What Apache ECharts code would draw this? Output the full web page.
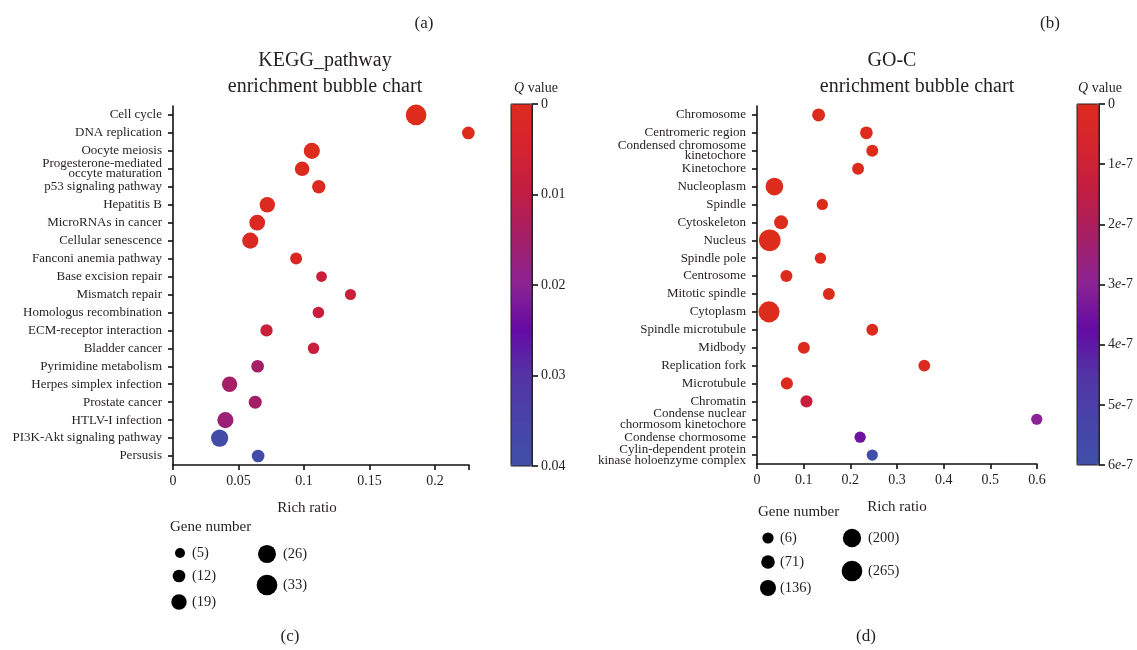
<!DOCTYPE html>
<html>
<head>
<meta charset="utf-8">
<script src="https://cdn.jsdelivr.net/npm/echarts@6/dist/echarts.min.js"></script>
<style>
html, body { margin: 0; padding: 0; background: #fff; }
#main { width: 1137px; height: 650px; }
</style>
</head>
<body>
<div id="main"></div>
<script>
// KEGG pathway (left)
const keggTerms = ['Cell cycle', 'DNA replication', 'Oocyte meiosis', 'Progesterone-mediated\noccyte maturation',
  'p53 signaling pathway', 'Hepatitis B', 'MicroRNAs in cancer', 'Cellular senescence', 'Fanconi anemia pathway',
  'Base excision repair', 'Mismatch repair', 'Homologus recombination', 'ECM-receptor interaction', 'Bladder cancer',
  'Pyrimidine metabolism', 'Herpes simplex infection', 'Prostate cancer', 'HTLV-I infection',
  'PI3K-Akt signaling pathway', 'Persusis'];
const keggRatio = [0.1856, 0.2255, 0.106, 0.0986, 0.1113, 0.072, 0.0643, 0.059, 0.094,
  0.1134, 0.1355, 0.111, 0.0714, 0.1073, 0.0646, 0.0432, 0.0628, 0.040, 0.0356, 0.065];
const keggGenes = [33, 12, 21, 17, 14, 19, 20, 21, 10, 7, 8, 9, 11, 9, 12, 19, 13, 21, 24, 12];
const keggQ = [0, 0, 0.0002, 0.0005, 0.0008, 0.001, 0.0012, 0.0015, 0.002,
  0.008, 0.008, 0.008, 0.0075, 0.008, 0.015, 0.0145, 0.015, 0.0165, 0.0385, 0.038];

// GO-C (right)
const goTerms = ['Chromosome', 'Centromeric region', 'Condensed chromosome\nkinetochore', 'Kinetochore',
  'Nucleoplasm', 'Spindle', 'Cytoskeleton', 'Nucleus', 'Spindle pole', 'Centrosome', 'Mitotic spindle',
  'Cytoplasm', 'Spindle microtubule', 'Midbody', 'Replication fork', 'Microtubule', 'Chromatin',
  'Condense nuclear\nchormosom kinetochore', 'Condense chormosome',
  'Cylin-dependent protein\nkinase holoenzyme complex'];
const goRatio = [0.132, 0.2344, 0.247, 0.2166, 0.0373, 0.14, 0.0516, 0.0273, 0.136, 0.063, 0.154,
  0.0258, 0.247, 0.1004, 0.3585, 0.064, 0.106, 0.5995, 0.221, 0.247];
const goGenes = [55, 46, 27, 27, 183, 8, 82, 290, 9, 30, 26, 275, 22, 28, 22, 33, 30, 6, 8, 7];
const goQ = [0, 0, 0, 0.05e-7, 0, 0.05e-7, 0, 0, 0.05e-7, 0.05e-7, 0.05e-7, 0, 0.1e-7, 0.1e-7, 0.1e-7,
  0.1e-7, 1.2e-7, 3.0e-7, 3.5e-7, 5.9e-7];

// gene number legends
const keggLegend = [5, 12, 19, 26, 33];
const goLegend = [6, 71, 136, 200, 265];

const qColors = ['#dd2b1c', '#d32430', '#c01d44', '#a31f68', '#8a2394', '#640aa4', '#5434a6', '#4843a8', '#3f50a8'];
const FONT = '"Liberation Serif", "DejaVu Serif", serif';
const INK = '#231f20';

// bubble size (diameter) from gene number
const sizeKegg = n => 8.1 + 0.382 * n;
const sizeGo = n => 11 + 0.0366 * n;

const chart = echarts.init(document.getElementById('main'));

function legendGraphics(values, sizeFn, pos, labelX) {
  const out = [];
  values.forEach((v, i) => {
    out.push({ type: 'circle', shape: { cx: pos[i][0], cy: pos[i][1], r: sizeFn(v) / 2 }, style: { fill: '#000' } });
    out.push({ type: 'text', style: { x: labelX[i], y: pos[i][1], text: '(' + v + ')', fill: INK,
      font: '14.5px ' + FONT, textAlign: 'left', textVerticalAlign: 'middle' } });
  });
  return out;
}

const legendL = legendGraphics(keggLegend, sizeKegg,
  [[180, 553], [179, 576], [179, 602], [267, 554], [267, 585]], [192, 192, 192, 283, 283]);
const legendR = legendGraphics(goLegend, sizeGo,
  [[768, 538], [768, 562], [768, 588], [852, 538], [852, 571]], [780, 780, 780, 868, 868]);

function txt(text, x, y, size, align) {
  return { type: 'text', style: { x: x, y: y, text: text, fill: INK, font: size + 'px ' + FONT,
    textAlign: align || 'center', textVerticalAlign: 'middle' } };
}

const barL = { left: 511, top: 104, width: 21, height: 362 };
const barR = { left: 1077, top: 104, width: 22, height: 361 };

const catAxis = (gridIndex, data) => ({
  type: 'category', gridIndex: gridIndex, data: data, inverse: true,
  axisLine: { show: true, lineStyle: { color: '#111', width: 1.6 } },
  axisTick: { show: true, alignWithLabel: true, interval: 0, length: 5, lineStyle: { color: '#111', width: 1.6 } },
  axisLabel: { interval: 0, hideOverlap: false, margin: 11, color: INK, fontFamily: FONT, fontSize: 13, lineHeight: 10.5 },
  splitLine: { show: false }
});

const valAxis = (gridIndex, max, interval, step) => ({
  type: 'value', gridIndex: gridIndex, min: 0, max: max, interval: interval,
  name: 'Rich ratio', nameLocation: 'middle', nameGap: 36,
  nameTextStyle: { color: INK, fontFamily: FONT, fontSize: 15, padding: step ? [0, 28, 0, 0] : 0 },
  axisLine: { show: true, lineStyle: { color: '#111', width: 1.6 } },
  axisTick: { show: true, length: 5, lineStyle: { color: '#111', width: 1.6 } },
  axisLabel: { margin: 9, color: INK, fontFamily: FONT, fontSize: 14,
    formatter: v => {
      const k = v / interval;
      return Math.abs(k - Math.round(k)) < 1e-6 ? String(+v.toFixed(2)) : '';
    } },
  splitLine: { show: false }
});

const barAxis = (gridIndex, max, interval, fmt) => ({
  type: 'value', gridIndex: gridIndex, min: 0, max: max, interval: interval, inverse: true,
  position: 'right', z: 10,
  axisLine: { show: true, onZero: false, lineStyle: { color: '#222', width: 1 } },
  axisTick: { show: true, inside: false, length: 6, lineStyle: { color: '#111', width: 1.6 } },
  axisLabel: { margin: 9, color: INK, fontFamily: FONT, fontSize: 14, formatter: fmt,
    rich: { n: { fontFamily: FONT, fontSize: 14, color: INK },
            e: { fontFamily: FONT, fontSize: 14, color: INK, fontStyle: 'italic' } } },
  splitLine: { show: false }
});

const qTitle = (x) => ({
  text: '{i|Q} value', left: x, top: 81, textAlign: 'center', padding: 0,
  textStyle: { fontFamily: FONT, fontSize: 14, fontWeight: 'normal', color: INK,
    rich: { i: { fontFamily: FONT, fontSize: 14, fontStyle: 'italic', color: INK } } }
});

chart.setOption({
  backgroundColor: '#fff',
  animation: false,
  title: [qTitle(536), qTitle(1100)],
  grid: [
    { left: 173, top: 106, width: 296, height: 359 },
    { left: 757, top: 106, width: 280, height: 358 },
    barL, barR
  ],
  xAxis: [
    valAxis(0, 0.226, 0.05, true),
    valAxis(1, 0.6, 0.1, false),
    { type: 'value', gridIndex: 2, min: 0, max: 1, show: false },
    { type: 'value', gridIndex: 3, min: 0, max: 1, show: false }
  ],
  yAxis: [
    catAxis(0, keggTerms),
    catAxis(1, goTerms),
    barAxis(2, 0.04, 0.01, v => String(+v.toFixed(2))),
    barAxis(3, 6e-7, 1e-7, v => {
      const k = Math.round(v * 1e7);
      return k === 0 ? '{n|0}' : '{n|' + k + '}{e|e}{n|-7}';
    })
  ],
  visualMap: [
    { type: 'continuous', seriesIndex: 0, dimension: 3, min: 0, max: 0.04, inverse: true,
      left: barL.left, top: barL.top, itemWidth: barL.width, itemHeight: barL.height, padding: 0,
      calculable: false, hoverLink: false, inRange: { color: qColors } },
    { type: 'continuous', seriesIndex: 1, dimension: 3, min: 0, max: 6e-7, inverse: true,
      left: barR.left, top: barR.top, itemWidth: barR.width, itemHeight: barR.height, padding: 0,
      calculable: false, hoverLink: false, inRange: { color: qColors } }
  ],
  series: [
    { type: 'scatter', xAxisIndex: 0, yAxisIndex: 0,
      data: keggTerms.map((t, i) => [keggRatio[i], t, keggGenes[i], keggQ[i]]),
      symbolSize: v => sizeKegg(v[2]), itemStyle: { opacity: 1 } },
    { type: 'scatter', xAxisIndex: 1, yAxisIndex: 1,
      data: goTerms.map((t, i) => [goRatio[i], t, goGenes[i], goQ[i]]),
      symbolSize: v => sizeGo(v[2]), itemStyle: { opacity: 1 } }
  ],
  graphic: [
    txt('(a)', 424, 24, 17), txt('(b)', 1050, 24, 17),
    txt('(c)', 290, 637, 17), txt('(d)', 866, 637, 17),
    txt('KEGG_pathway', 325, 61, 20), txt('enrichment bubble chart', 325, 87, 20),
    txt('GO-C', 892, 61, 20), txt('enrichment bubble chart', 917, 87, 20),
    txt('Gene number', 170, 527, 15, 'left'), txt('Gene number', 758, 512, 15, 'left'),
    { type: 'rect', shape: { x: barL.left, y: barL.top, width: barL.width, height: barL.height },
      style: { fill: null, stroke: '#222', lineWidth: 1 }, z: 100 },
    { type: 'rect', shape: { x: barR.left, y: barR.top, width: barR.width, height: barR.height },
      style: { fill: null, stroke: '#222', lineWidth: 1 }, z: 100 }
  ].concat(legendL, legendR)
});
</script>
</body>
</html>
